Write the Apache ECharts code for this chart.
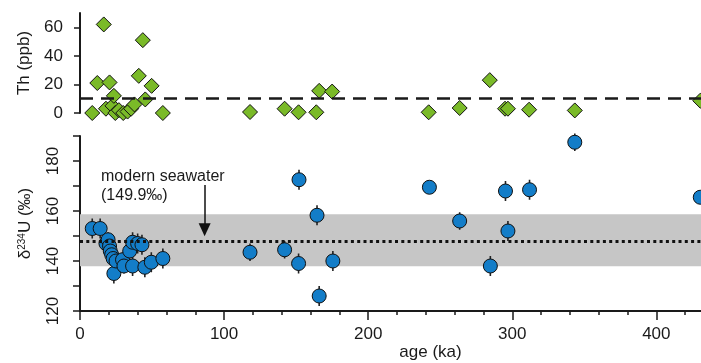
<!DOCTYPE html>
<html>
<head>
<meta charset="utf-8">
<script src="https://cdn.jsdelivr.net/npm/echarts@6/dist/echarts.min.js"></script>
<style>
  html, body { margin: 0; padding: 0; background: #fff; }
  #chart { width: 701px; height: 363px; }
</style>
</head>
<body>
<div id="chart"></div>
<script>
// Th (ppb) vs age (ka), upper panel
const thAge = [8.5, 12, 16.5, 20.5, 18, 22.5, 23.5, 24.5, 27, 30, 33, 35.5, 37.8, 40.8, 43.6, 45.3, 49.7, 57.5,
  118, 142, 151.7, 164, 166, 175, 242, 263.5, 284.4, 295, 297, 311.7, 343.4, 430.5]
const thVal = [0, 21, 62, 21.4, 3, 5, 12, 0, 2, 0, 1, 3, 6, 26, 51, 9.5, 19, 0,
  0.7, 3, 0.5, 0.5, 15.5, 15, 0.5, 3.5, 23, 3, 3, 2.3, 1.8, 8.6]
const thThreshold = 10

// d234U (permil) vs age (ka), lower panel, with 2-sigma error
const uAge = [8.5, 14, 18, 19.5, 20.5, 21, 22, 23, 23.5, 25, 29.5, 30.5, 34.5, 36.5, 36.5, 40, 43, 45, 49.5, 57.5,
  118, 142, 151.7, 152, 164.5, 166, 175.5, 242.5, 263.5, 284.8, 295.3, 297, 312, 343.4, 430.5]
const uVal = [153, 153, 147, 148.5, 146, 144, 142.5, 141, 135, 140, 140.5, 138, 144, 138, 147.5, 147, 146.5, 137.5, 139.5, 141,
  143.5, 144.5, 139, 172.5, 158.3, 126, 140, 169.5, 156, 138, 168, 152, 168.5, 187.5, 165.5]
const uErr = [4, 4, 3, 3, 3, 3, 3, 3, 4, 3, 3, 3, 3, 4, 4, 4, 4, 4, 4, 4,
  3.5, 3.5, 4, 4, 4, 4, 4, 0, 3.5, 4, 4, 4, 4, 3.5, 0]

const seawaterLine = 148
const seawaterBand = [137.9, 158.7]
const arrowAge = 86.5
const arrowFrom = 170.4
const arrowTo = 152.5

const xMax = 431
const xMinorTicks = [0, 20, 40, 60, 80, 100, 120, 140, 160, 180, 200, 220, 240, 260, 280, 300, 320, 340, 360, 380, 400, 420]
const xMajorTicks = [0, 100, 200, 300, 400]
const thTicks = [0, 20, 40, 60]
const uTicks = [120, 130, 140, 150, 160, 170, 180, 190]
const uLabels = [120, 140, 160, 180]

const FONT = 'Liberation Sans, Arial, sans-serif'
const INK = '#1a1a1a'

const chart = echarts.init(document.getElementById('chart'), null, { renderer: 'canvas' })

const axisLine = { show: true, lineStyle: { color: INK, width: 2 } }

const option = {
  animation: false,
  backgroundColor: '#fff',
  textStyle: { fontFamily: FONT },
  grid: [
    { left: 80, right: 0, top: 13, height: 100, containLabel: false },
    { left: 80, right: 0, top: 136, height: 175, containLabel: false }
  ],
  xAxis: [
    { gridIndex: 0, type: 'value', min: 0, max: xMax, show: false },
    {
      gridIndex: 1, type: 'value', min: 0, max: xMax,
      axisLine,
      splitLine: { show: false },
      axisTick: { show: true, length: 4, customValues: xMinorTicks, lineStyle: { color: INK, width: 1.5 } },
      axisLabel: { customValues: xMajorTicks, color: INK, fontSize: 17, margin: 15, fontFamily: FONT },
      name: 'age (ka)',
      nameLocation: 'middle',
      nameGap: 30,
      nameTextStyle: { color: INK, fontSize: 17, fontFamily: FONT, padding: [0, 0, 0, 80] }
    },
    // longer ticks at every 100 ka
    {
      gridIndex: 1, type: 'value', min: 0, max: xMax, position: 'bottom',
      axisLine: { show: false },
      splitLine: { show: false },
      axisLabel: { show: false },
      axisTick: { show: true, length: 9, customValues: xMajorTicks, lineStyle: { color: INK, width: 1.5 } }
    }
  ],
  yAxis: [
    {
      gridIndex: 0, type: 'value', min: 0, max: 70,
      axisLine,
      splitLine: { show: false },
      axisTick: { show: true, length: 6, customValues: thTicks, lineStyle: { color: INK, width: 1.5 } },
      axisLabel: { customValues: thTicks, color: INK, fontSize: 17, margin: 17, fontFamily: FONT },
      name: 'Th (ppb)',
      nameLocation: 'middle',
      nameRotate: 90,
      nameGap: 47,
      nameTextStyle: { color: INK, fontSize: 17, fontFamily: FONT }
    },
    {
      gridIndex: 1, type: 'value', min: 120, max: 190,
      axisLine,
      splitLine: { show: false },
      axisTick: { show: true, length: 7, customValues: uTicks, lineStyle: { color: INK, width: 1.5 } },
      axisLabel: { customValues: uLabels, rotate: 90, color: INK, fontSize: 17, margin: 18, fontFamily: FONT },
      name: '{d|δ}{s|234}{d|U (‰)}',
      nameLocation: 'middle',
      nameRotate: 90,
      nameGap: 46,
      nameTextStyle: {
        color: INK, fontFamily: FONT,
        rich: {
          d: { fontSize: 17, color: INK, fontFamily: FONT },
          s: { fontSize: 10, color: INK, fontFamily: FONT, verticalAlign: 'top' }
        }
      }
    }
  ],
  graphic: [
    {
      type: 'text', left: 101, top: 167,
      style: { text: 'modern seawater\n(149.9‰)', font: '16px ' + FONT, fill: INK, lineHeight: 19 }
    }
  ],
  series: [
    {
      type: 'scatter', xAxisIndex: 0, yAxisIndex: 0,
      data: thAge.map((a, i) => [a, thVal[i]]),
      symbol: 'diamond', symbolSize: 15, clip: false,
      itemStyle: { color: '#7aba28', borderColor: '#111', borderWidth: 1, opacity: 1 },
      markLine: {
        silent: true, symbol: 'none', label: { show: false },
        lineStyle: { color: INK, width: 2.5, type: [13, 8] },
        data: [{ yAxis: thThreshold }]
      },
      z: 3
    },
    {
      type: 'custom', xAxisIndex: 1, yAxisIndex: 1,
      data: uAge.map((a, i) => [a, uVal[i], uErr[i]]),
      renderItem: (params, api) => {
        const x = api.value(0)
        const y = api.value(1)
        const e = api.value(2)
        const p1 = api.coord([x, y + e])
        const p2 = api.coord([x, y - e])
        return {
          type: 'line',
          shape: { x1: p1[0], y1: p1[1], x2: p2[0], y2: p2[1] },
          style: { stroke: '#222', lineWidth: 1.6 }
        }
      },
      z: 2
    },
    {
      type: 'scatter', xAxisIndex: 1, yAxisIndex: 1,
      data: uAge.map((a, i) => [a, uVal[i]]),
      symbol: 'circle', symbolSize: 14, clip: false,
      itemStyle: { color: '#137dc8', borderColor: '#111', borderWidth: 1, opacity: 1 },
      markArea: {
        silent: true,
        itemStyle: { color: '#c6c6c6' },
        data: [[{ yAxis: seawaterBand[0] }, { yAxis: seawaterBand[1] }]]
      },
      markLine: {
        silent: true, label: { show: false }, symbol: 'none',
        data: [
          { yAxis: seawaterLine, lineStyle: { color: '#111', width: 3, type: [3, 3.3] } },
          [
            { coord: [arrowAge, arrowFrom], symbol: 'none', lineStyle: { color: '#111', width: 1.5, type: 'solid' } },
            { coord: [arrowAge, arrowTo], symbol: 'triangle', symbolSize: [12, 13] }
          ]
        ]
      },
      z: 3
    }
  ]
}

chart.setOption(option)
</script>
</body>
</html>
